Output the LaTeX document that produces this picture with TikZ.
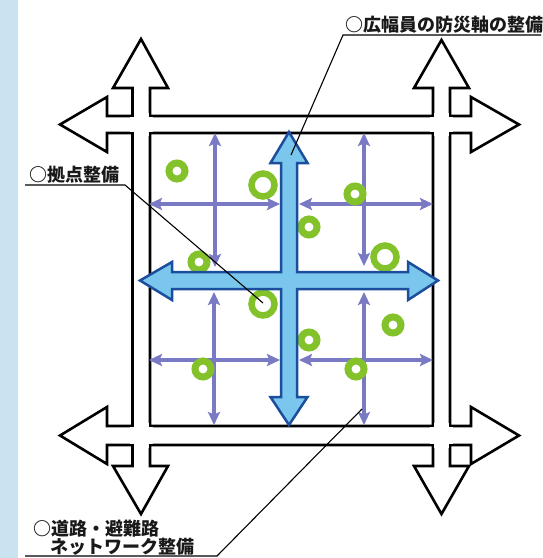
\documentclass[tikz,border=0pt]{standalone}
\usepackage{fontspec}
\newfontfamily\jp{Noto Sans CJK JP Black}
\usetikzlibrary{arrows.meta}
\definecolor{stripblue}{RGB}{202,227,241}
\definecolor{purp}{RGB}{122,122,196}
\definecolor{grn}{RGB}{132,194,44}
\definecolor{axisfill}{RGB}{122,198,236}
\definecolor{axisline}{RGB}{28,78,158}
\definecolor{txt}{RGB}{25,25,25}
\begin{document}
\begin{tikzpicture}[x=1pt,y=-1pt,
  road/.style={line width=2.6pt,draw=black,line join=miter},
  eraser/.style={fill=white},
  purarrow/.style={draw=purp,line width=3.3pt,
    {Stealth[length=13pt,width=12pt,inset=2.5pt]}-{Stealth[length=13pt,width=12pt,inset=2.5pt]}},
  ringS/.style={draw=grn,line width=7pt},
  ringB/.style={draw=grn,line width=6.5pt},
  axis/.style={fill=axisfill,draw=axisline,line width=2.5pt,line join=miter},
  leader/.style={draw=black,line width=1.1pt},
  lbl/.style={font=\jp\fontsize{18}{20}\selectfont,text=txt,inner sep=0pt,anchor=base west}]
\useasboundingbox (0,0) rectangle (542,558);
\fill[white] (0,0) rectangle (542,558);
\fill[stripblue] (0,0) rectangle (18,558);

% road network (white roads with black edges)
\draw[road] (107,116) -- (107,97) -- (60,124.5) -- (107,152) -- (107,133) -- (471,133) -- (471,152) -- (519,124.5) -- (471,97) -- (471,116) -- cycle;
\draw[road] (107,426) -- (107,407) -- (60,435.5) -- (107,464) -- (107,445) -- (471,445) -- (471,464) -- (519,435.5) -- (471,407) -- (471,426) -- cycle;
\draw[road] (132.5,88) -- (113,88) -- (141,39) -- (168,88) -- (150,88) -- (150,466) -- (168,466) -- (141,514) -- (113,466) -- (132.5,466) -- cycle;
\draw[road] (433,88) -- (414,88) -- (441.5,40) -- (469,88) -- (450,88) -- (450,466) -- (469,466) -- (441.5,514) -- (414,466) -- (433,466) -- cycle;
% clear the crossings
\fill[eraser] (133.9,113) rectangle (148.6,136);
\fill[eraser] (130,117.4) rectangle (153,131.6);
\fill[eraser] (434.4,113) rectangle (448.6,136);
\fill[eraser] (430,117.4) rectangle (453,131.6);
\fill[eraser] (133.9,423) rectangle (148.6,448);
\fill[eraser] (130,427.4) rectangle (153,443.6);
\fill[eraser] (434.4,423) rectangle (448.6,448);
\fill[eraser] (430,427.4) rectangle (453,443.6);

% purple local network arrows
\coordinate (q1t) at (215,133); \coordinate (q1b) at (215,267);
\coordinate (q1l) at (149,204); \coordinate (q1r) at (280,204);
\coordinate (q2t) at (364,133); \coordinate (q2b) at (364,266);
\coordinate (q2l) at (299,204); \coordinate (q2r) at (433,204);
\coordinate (q3t) at (214,292); \coordinate (q3b) at (214,425);
\coordinate (q3l) at (149,360); \coordinate (q3r) at (280,360);
\coordinate (q4t) at (364,292); \coordinate (q4b) at (364,425);
\coordinate (q4l) at (299,360); \coordinate (q4r) at (433,360);
\draw[purarrow] (q1t) -- (q1b);
\draw[purarrow] (q1l) -- (q1r);
\draw[purarrow] (q2t) -- (q2b);
\draw[purarrow] (q2l) -- (q2r);
\draw[purarrow] (q3t) -- (q3b);
\draw[purarrow] (q3l) -- (q3r);
\draw[purarrow] (q4t) -- (q4b);
\draw[purarrow] (q4l) -- (q4r);

% green rings (bases)
\draw[ringS] (177,171) circle[radius=8pt];
\draw[ringB] (263,185) circle[radius=11.5pt];
\draw[ringS] (355,194) circle[radius=8pt];
\draw[ringS] (309,227) circle[radius=8pt];
\draw[ringB] (385,257) circle[radius=11.5pt];
\draw[ringS] (199,262) circle[radius=8pt];
\draw[ringB] (263,304) circle[radius=11.5pt];
\draw[ringS] (309,340) circle[radius=8pt];
\draw[ringS] (393,325) circle[radius=8pt];
\draw[ringS] (203,369) circle[radius=8pt];
\draw[ringS] (356,369) circle[radius=8pt];
\coordinate (hub) at (263,303);

% wide disaster-prevention axes
\draw[axis] (289,132) -- (307.5,163) -- (297,163) -- (297,272) -- (408,272) -- (408,262) -- (438,280.5) -- (408,300) -- (408,289) -- (297,289) -- (297,397) -- (307.5,397) -- (289,425) -- (270.5,397) -- (281,397) -- (281,289) -- (172,289) -- (172,300) -- (140,280.5) -- (172,262) -- (172,272) -- (281,272) -- (281,163) -- (270.5,163) -- cycle;
\coordinate (axtip) at (291,155);
\coordinate (netpt) at (362,409);

% labels and leaders
\node[lbl] (tA) at (345,31) {○広幅員の防災軸の整備};
\coordinate (uA1) at (343,35); \coordinate (uA2) at (541,35);
\draw[leader] (uA2) -- (uA1) -- (axtip);

\node[lbl] (tB) at (29,181) {○拠点整備};
\coordinate (uB1) at (25,185); \coordinate (uB2) at (125,185);
\draw[leader] (uB1) -- (uB2) -- (hub);

\node[lbl] (tC1) at (33,535) {○道路・避難路};
\node[lbl] (tC2) at (50,553) {ネットワーク整備};
\coordinate (uC1) at (25,556); \coordinate (uC2) at (217,556);
\draw[leader] (uC1) -- (uC2) -- (netpt);
\end{tikzpicture}
\end{document}
